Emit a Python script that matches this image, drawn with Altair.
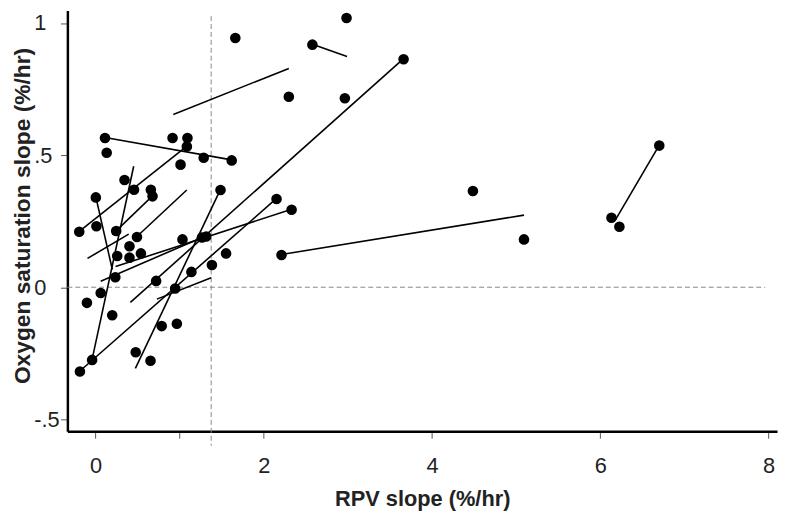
import altair as alt
import pandas as pd

# scatter points (RPV slope, oxygen saturation slope)
pt_x = [1.662, 2.578, 2.984, 3.662, 2.298, 2.964, 0.113, 0.916, 1.093, 1.086,
        0.133, 1.286, 1.619, 1.011, 0.345, 0.458, 0.658, 0.678, 0.004, 1.486,
        2.152, 2.331, -0.193, 0.011, 0.246, 0.493, 0.404, 0.540, 0.258, 0.404,
        1.034, 1.266, 1.316, 1.552, 1.384, 1.140, 0.236, 0.721, 0.947, 0.062,
        -0.102, 0.199, 0.787, 0.967, 0.478, 0.654, -0.040, -0.185, 2.211, 4.486,
        5.093, 6.701, 6.133, 6.227]
pt_y = [0.943, 0.918, 1.019, 0.863, 0.721, 0.715, 0.565, 0.565, 0.565, 0.533,
        0.509, 0.490, 0.480, 0.464, 0.406, 0.369, 0.369, 0.344, 0.340, 0.368,
        0.334, 0.293, 0.210, 0.231, 0.213, 0.190, 0.155, 0.128, 0.118, 0.112,
        0.181, 0.188, 0.192, 0.128, 0.084, 0.058, 0.038, 0.024, -0.005, -0.022,
        -0.059, -0.106, -0.147, -0.138, -0.246, -0.278, -0.275, -0.319, 0.122, 0.364,
        0.181, 0.536, 0.263, 0.229]

# line segments
seg_x1 = [0.113, 0.925, 2.578, 0.415, -0.193, 0.454, 0.004, -0.095, 0.199,
          0.493, 0.239, 0.062, -0.185, 0.474, 2.211, 0.730, 6.701]
seg_y1 = [0.567, 0.654, 0.920, -0.057, 0.211, 0.458, 0.342, 0.109, 0.199,
          0.192, 0.078, 0.023, -0.317, -0.307, 0.124, -0.045, 0.538]
seg_x2 = [1.619, 2.298, 2.990, 3.662, 1.086, -0.040, 0.200, 0.395, 0.678,
          1.085, 2.331, 1.316, 2.152, 1.486, 5.093, 1.375, 6.180]
seg_y2 = [0.482, 0.828, 0.873, 0.865, 0.534, -0.273, 0.067, 0.201, 0.346,
          0.368, 0.295, 0.195, 0.336, 0.370, 0.273, 0.036, 0.255]

# reference lines
ref_x = 1.375
ref_y = 0.0

x_ticks = [0, 1, 2, 4, 6, 8]
y_ticks = [-0.5, 0, 0.5, 1]

x_dom = [-0.334, 8.101]
y_dom = [-0.545, 1.047]

FONT = "Liberation Sans, Arial, sans-serif"

pts = pd.DataFrame({"x": pt_x, "y": pt_y})
segs = pd.DataFrame({"x": seg_x1, "y": seg_y1, "x2": seg_x2, "y2": seg_y2})
vdf = pd.DataFrame({"x": [ref_x], "y": [1.026], "y2": [-0.6]})
hdf = pd.DataFrame({"x": [x_dom[0]], "x2": [7.96], "y": [ref_y]})

xs = alt.Scale(domain=x_dom, nice=False, zero=False)
ys = alt.Scale(domain=y_dom, nice=False, zero=False)

xaxis = alt.Axis(values=x_ticks, labelExpr="datum.value == 1 ? '' : datum.label",
                 grid=False, domainColor="black", domainWidth=2.5,
                 tickColor="#555", tickSize=7, tickWidth=1,
                 labelFont=FONT, labelFontSize=22, labelColor="#222", labelPadding=18,
                 titleFont=FONT, titleFontSize=22, titleFontWeight="bold", titleColor="#222",
                 titleBaseline="middle", titleY=68)
yaxis = alt.Axis(values=y_ticks,
                 labelExpr="datum.value == 1 ? '1' : datum.value == 0.5 ? '.5' : datum.value == 0 ? '0' : '-.5'",
                 grid=False, domainColor="black", domainWidth=2.5,
                 tickColor="#555", tickSize=7, tickWidth=1,
                 labelFont=FONT, labelFontSize=22, labelColor="#222", labelPadding=27,
                 labelAlign="left",
                 titleFont=FONT, titleFontSize=23, titleFontWeight="bold", titleColor="#222",
                 titleBaseline="middle", titleX=-45, titleY=207)

XT = "RPV slope (%/hr)"
YT = "Oxygen saturation slope (%/hr)"

def xenc():
    return alt.X("x:Q", scale=xs, axis=xaxis, title=XT)

def yenc():
    return alt.Y("y:Q", scale=ys, axis=yaxis, title=YT)

hline = alt.Chart(hdf).mark_rule(color="#888", strokeDash=[5, 3], strokeWidth=1, clip=False).encode(
    x=xenc(), x2="x2:Q", y=yenc())
vline = alt.Chart(vdf).mark_rule(color="#888", strokeDash=[5, 3], strokeWidth=1, clip=False).encode(
    x=xenc(), y=yenc(), y2="y2:Q")
lines = alt.Chart(segs).mark_rule(color="black", strokeWidth=1.6).encode(
    x=xenc(), y=yenc(), x2="x2:Q", y2="y2:Q")
dots = alt.Chart(pts).mark_circle(size=115, color="black", opacity=1).encode(
    x=xenc(), y=yenc())

chart = alt.layer(hline, vline, lines, dots).properties(
    width=717, height=425, autosize="none",
    padding={"left": 60, "top": 0, "right": 6, "bottom": 80},
).configure_view(stroke=None)

chart.save("out.html", embed_options={"renderer": "svg", "actions": False})
